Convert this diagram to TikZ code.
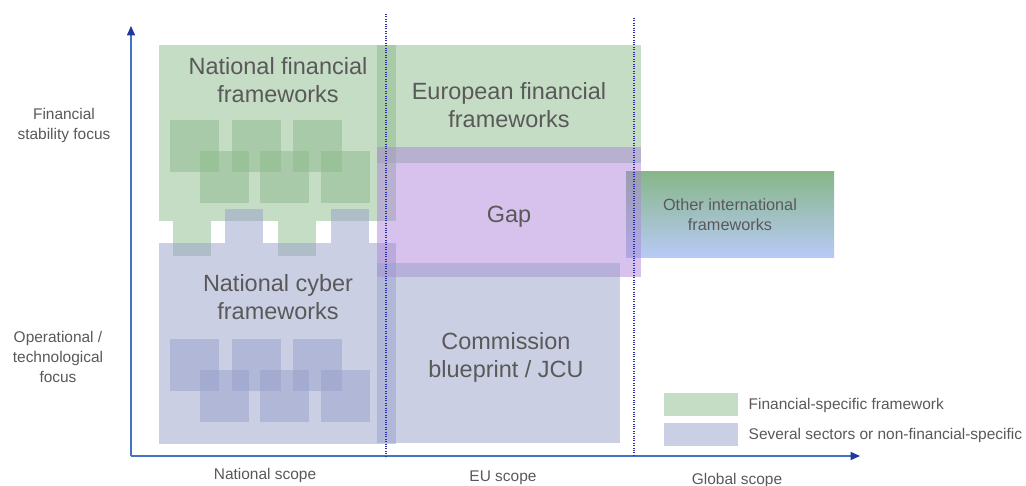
\documentclass[tikz,border=0pt]{standalone}
\usepackage{fontspec}
\setmainfont{Liberation Sans}
\usetikzlibrary{arrows.meta}

\definecolor{finGreen}{RGB}{139,185,139}
\definecolor{cybBlue}{RGB}{151,159,201}
\definecolor{gapPurple}{RGB}{173,133,217}
\definecolor{axisBlue}{RGB}{68,114,196}
\definecolor{tipBlue}{RGB}{32,56,160}
\definecolor{dotBlue}{RGB}{40,50,170}
\definecolor{txtGray}{RGB}{89,89,89}
\definecolor{glTopC}{RGB}{135,182,135}
\definecolor{glMidC}{RGB}{202,202,226}
\definecolor{glBotC}{RGB}{184,202,246}

\tikzset{
	fin/.style={fill=finGreen, fill opacity=0.5},
	cyb/.style={fill=cybBlue, fill opacity=0.5},
	gapfill/.style={fill=gapPurple, fill opacity=0.5},
	bigtxt/.style={align=center, text=txtGray, font=\fontsize{17.6}{21}\selectfont},
	smalltxt/.style={align=center, text=txtGray, font=\fontsize{11.6}{15}\selectfont},
	axisline/.style={draw=axisBlue, line width=1.1pt, -{Triangle[length=7pt,width=6pt,color=tipBlue]}},
	scopeline/.style={draw=dotBlue, line width=0.8pt, densely dotted}
}

% six overlapping squares inside a national block
\newcommand{\sixsq}[2]{
	\foreach \sx in {170,232,293}
		\fill[#2] (\sx,#1) rectangle ++(49,52);
	\foreach \sx in {200,260,321}
		\fill[#2] (\sx,#1+31) rectangle ++(49,52);
}

\begin{document}
\begin{tikzpicture}[x=0.75pt, y=-0.75pt]
\useasboundingbox (0,0) rectangle (1026,486);

% global block (under the EU blocks)
\shade[top color=glTopC, middle color=glMidC, bottom color=glBotC] (626,171) rectangle (834,257);

% national blocks
\fill[fin] (159,45) rectangle (396,221);
\sixsq{120}{fin}
\fill[fin] (173,221) rectangle (211,256);
\fill[fin] (278,221) rectangle (316,256);
\fill[cyb] (225,209) rectangle (263,243);
\fill[cyb] (331,209) rectangle (369,243);
\fill[cyb] (159,243) rectangle (396,444);
\sixsq{339}{cyb}

% EU blocks
\fill[fin] (377,45) rectangle (641,163);
\fill[gapfill] (377,147) rectangle (641,277);
\fill[cyb] (377,263) rectangle (620,443);

% axes
\coordinate (origin) at (131,456);
\coordinate (ytop) at (131,26);
\coordinate (xend) at (860,456);
\draw[axisline] (origin) -- (ytop);
\draw[axisline] (origin) -- (xend);

\coordinate (euTop) at (386,14);
\coordinate (euBot) at (386,458);
\coordinate (glTop) at (634,18);
\coordinate (glBot) at (634,456);
\draw[scopeline] (euTop) -- (euBot);
\draw[scopeline] (glTop) -- (glBot);

% labels
\node[bigtxt] (natfin) at (278,80) {National financial\\frameworks};
\node[bigtxt] (eufin) at (509,105) {European financial\\frameworks};
\node[bigtxt] (gap) at (509,217) {Gap};
\node[bigtxt] (natcyb) at (278,297) {National cyber\\frameworks};
\node[bigtxt] (commission) at (506,357) {Commission\\blueprint / JCU};
\node[smalltxt, font=\fontsize{12.2}{15}\selectfont] (otherint) at (730,215) {Other international\\frameworks};

\node[smalltxt] (finfocus) at (64,125) {Financial\\stability focus};
\node[smalltxt] (opfocus) at (58,357) {Operational /\\technological\\focus};
\node[smalltxt] (natscope) at (265,475) {National scope};
\node[smalltxt] (euscope) at (503,478) {EU scope};
\node[smalltxt] (glscope) at (737,480) {Global scope};

% legend
\fill[fin] (664,393) rectangle (738,416);
\fill[cyb] (664,423) rectangle (738,446);
\node[smalltxt, anchor=west] (legfin) at (744,405) {Financial-specific framework};
\node[smalltxt, anchor=west] (legcyb) at (744,435) {Several sectors or non-financial-specific};
\end{tikzpicture}
\end{document}
